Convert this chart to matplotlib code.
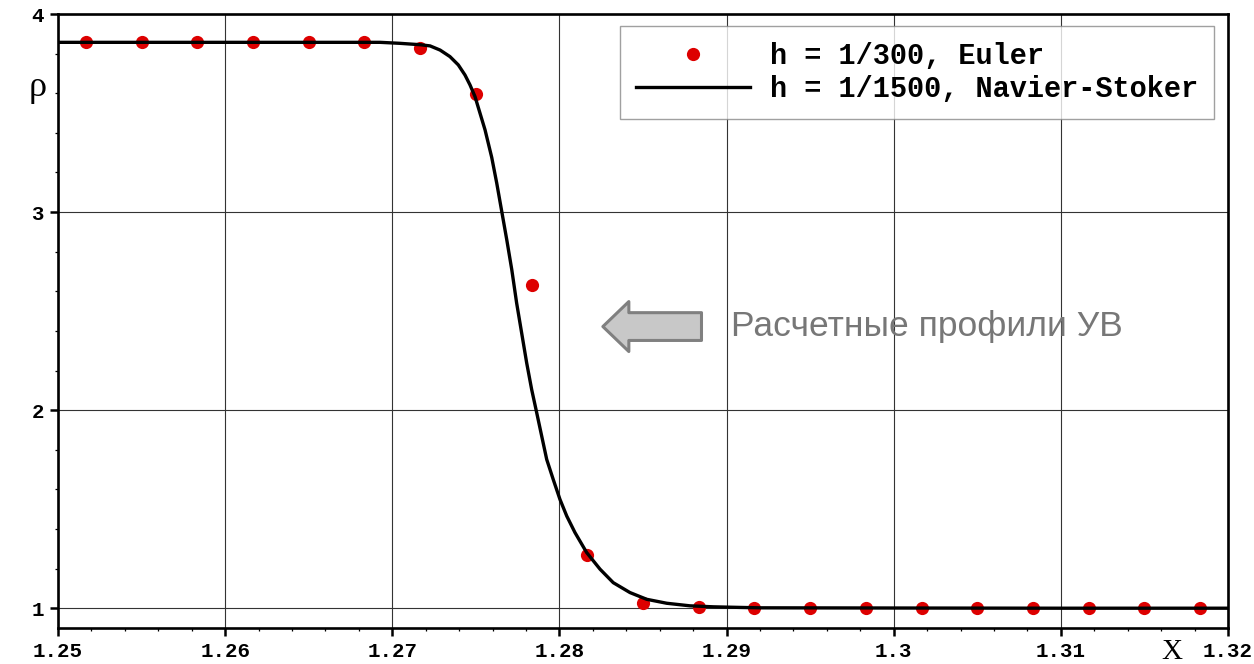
import matplotlib
matplotlib.use("Agg")
import matplotlib.pyplot as plt
from matplotlib.ticker import MultipleLocator, FixedLocator

# Euler solution, h = 1/300 (cell centres)
x_euler = [1.25167, 1.25500, 1.25833, 1.26167, 1.26500, 1.26833, 1.27167,
           1.27500, 1.27833, 1.28167, 1.28500, 1.28833, 1.29167, 1.29500,
           1.29833, 1.30167, 1.30500, 1.30833, 1.31167, 1.31500, 1.31833]
rho_euler = [3.857, 3.857, 3.857, 3.859, 3.859, 3.857, 3.829,
             3.597, 2.633, 1.267, 1.025, 1.005, 1.001, 1.001,
             1.001, 1.000, 1.000, 1.000, 1.000, 1.000, 1.000]

# Navier-Stokes solution, h = 1/1500
x_ns = [1.25000, 1.26500, 1.26927, 1.27046, 1.27166, 1.27226, 1.27286,
        1.27345, 1.27395, 1.27435, 1.27465, 1.27495, 1.27525, 1.27555,
        1.27595, 1.27625, 1.27655, 1.27685, 1.27715, 1.27744, 1.27774,
        1.27804, 1.27834, 1.27860, 1.27894, 1.27924, 1.27963, 1.28003,
        1.28044, 1.28093, 1.28163, 1.28243, 1.28322, 1.28422, 1.28522,
        1.28642, 1.28781, 1.28921, 1.29080, 1.29200, 1.30000, 1.31000,
        1.32000]
rho_ns = [3.857, 3.857, 3.857, 3.852, 3.845, 3.839, 3.818,
          3.785, 3.743, 3.692, 3.642, 3.583, 3.499, 3.415,
          3.276, 3.146, 3.003, 2.860, 2.709, 2.541, 2.390,
          2.239, 2.104, 2.003, 1.869, 1.751, 1.650, 1.550,
          1.465, 1.382, 1.281, 1.197, 1.129, 1.079, 1.045,
          1.025, 1.012, 1.007, 1.004, 1.002, 1.001, 1.000,
          1.000]

x_ticks = [1.25, 1.26, 1.27, 1.28, 1.29, 1.3, 1.31, 1.32]
x_tick_labels = ["1.25", "1.26", "1.27", "1.28", "1.29", "1.3", "1.31", "1.32"]
y_ticks = [1, 2, 3, 4]

mono = "Liberation Mono"
serif = "Liberation Serif"

fig = plt.figure(figsize=(12.54, 6.64), dpi=100)
ax = fig.add_axes([0.04625, 0.0542, 0.9330, 0.9247])

ax.plot(x_euler, rho_euler, "o", color="#dd0000", markersize=9.5,
        markeredgewidth=0, label="h = 1/300, Euler", zorder=3)
ax.plot(x_ns, rho_ns, "-", color="black", lw=2.4, solid_joinstyle="round",
        label="h = 1/1500, Navier-Stoker", zorder=4)

ax.set_xlim(1.25, 1.32)
ax.set_ylim(0.9, 4.0)
ax.xaxis.set_major_locator(FixedLocator(x_ticks))
ax.set_xticklabels(x_tick_labels)
ax.xaxis.set_minor_locator(MultipleLocator(0.002))
ax.yaxis.set_major_locator(FixedLocator(y_ticks))
ax.yaxis.set_minor_locator(MultipleLocator(0.2))

ax.grid(which="major", color="#333333", lw=0.8)
ax.set_axisbelow(True)
for side in ax.spines.values():
    side.set_linewidth(1.9)

ax.tick_params(which="major", direction="out", length=6, width=1.8,
               pad=4, labelsize=15)
ax.tick_params(which="minor", direction="out", length=2.5, width=0.9)
for lab in ax.get_xticklabels() + ax.get_yticklabels():
    lab.set_family(mono)
    lab.set_fontweight("bold")

# axis names
fig.text(38 / 1254, 1 - 88 / 664, "ρ", family=serif, fontsize=26,
         ha="center", va="center")
fig.text(1172 / 1254, 1 - 652 / 664, "X", family=serif, fontsize=21,
         ha="center", va="center")

leg = ax.legend(loc="upper right", bbox_to_anchor=(1214 / 1254, 1 - 26 / 664),
                bbox_transform=fig.transFigure, frameon=True, fancybox=False,
                prop={"family": mono, "weight": "bold", "size": 20.6},
                handlelength=4.0, borderpad=0.55, labelspacing=0.2,
                handletextpad=0.7, borderaxespad=0)
leg.get_frame().set_edgecolor("#888888")
leg.get_frame().set_linewidth(1.0)

# annotation arrow and caption
ax.annotate("", xy=(1.2826, 2.422), xytext=(1.2885, 2.422),
            arrowprops=dict(arrowstyle="simple,head_length=1.87,head_width=3.6,tail_width=2.0",
                            mutation_scale=10, fc="#c8c8c8", ec="#808080",
                            lw=2.2, shrinkA=0, shrinkB=0, joinstyle="round"))
ax.text(1.29024, 2.422, "Расчетные профили УВ", family="Liberation Sans",
        fontsize=25.5, color="#777777", ha="left", va="center")

fig.savefig("out.png", dpi=100)
